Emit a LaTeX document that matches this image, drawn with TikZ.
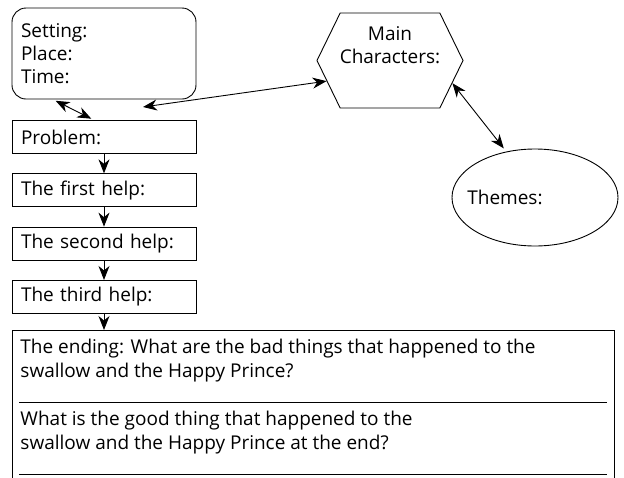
\documentclass[tikz,border=0pt]{standalone}
\usepackage{fontspec}
\setmainfont{Open Sans}
\usetikzlibrary{shapes.geometric, shapes.symbols, arrows.meta}

\newcommand{\storyfont}{\fontsize{19}{23.3}\selectfont}

\begin{document}
\begin{tikzpicture}[x = 1pt, y = -1pt, line width = 0.9pt, font = \storyfont, node distance = 53.3pt,
	>={Stealth[length = 14pt, width = 11pt, inset = 4.5pt]},
	main/.style = {draw, rectangle, minimum width = 184pt, minimum height = 33pt, text width = 166pt, inner xsep = 9pt, align = left},
	chars/.style = {draw, signal, signal to = west and east, signal pointer angle = 128, minimum width = 146pt, minimum height = 95pt},
	themes/.style = {draw, ellipse, minimum width = 166pt, minimum height = 97pt},
	question/.style = {anchor = north west, align = left, inner sep = 0pt}]
	\useasboundingbox (0,0) rectangle (624,477);
	\clip (0,0) rectangle (624,477);
	\node[main, rounded corners = 14pt, minimum height = 91pt] (setting) at (104,53.5) {Setting:\\Place:\\Time:};
	\node[main] (problem) at (104,137) {Problem:};
	\node[main] (help1) [below of = problem] {The first help:};
	\node[main] (help2) [below of = help1] {The second help:};
	\node[main] (help3) [below of = help2] {The third help:};
	\node[chars, label = {[align = center, anchor = north, yshift = -10pt]north:{Main\\Characters:}}] (characters) at (390,60.5) {};
	\node[themes, label = {[anchor = west, xshift = 12pt]west:{Themes:}}] (themes) at (535,197.5) {};
	\node[draw, anchor = north west, minimum width = 602pt, minimum height = 160pt] (ending) at (12,330) {};
	\node[question] (bad) at (20,339) {The ending: What are the bad things that happened to the\\swallow and the Happy Prince?};
	\node[question] (good) at (20,411) {What is the good thing that happened to the\\swallow and the Happy Prince at the end?};
	\draw (19,402) -- (607,402);
	\draw (19,474) -- (607,474);
	\coordinate (gap) at (143,107);
	\draw[<->, shorten <= 3pt, shorten >= 3pt] (setting.222) -- ([xshift = -10pt]problem.north);
	\draw[<->] (gap) -- (characters.198);
	\draw[<->, shorten >= 4pt] (characters.-20) -- (themes.122);
	\draw[->] (problem) -- (help1);
	\draw[->] (help1) -- (help2);
	\draw[->] (help2) -- (help3);
	\draw[->] (help3) -- (help3 |- ending.north);
\end{tikzpicture}
\end{document}
